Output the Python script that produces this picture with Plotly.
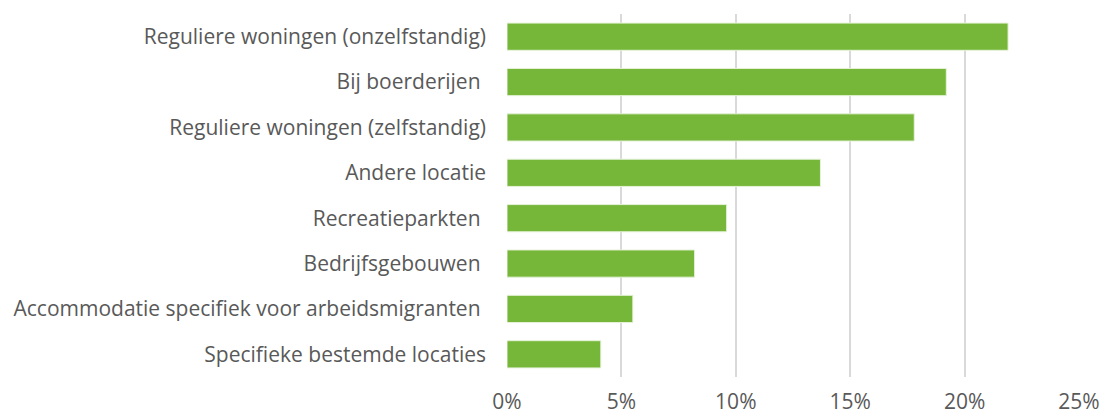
import plotly.graph_objects as go

categories = [
    "Reguliere woningen (onzelfstandig)",
    "Bij boerderijen ",
    "Reguliere woningen (zelfstandig)",
    "Andere locatie",
    "Recreatieparkten ",
    "Bedrijfsgebouwen ",
    "Accommodatie specifiek voor arbeidsmigranten ",
    "Specifieke bestemde locaties",
]
shares = [0.219, 0.192, 0.178, 0.137, 0.096, 0.082, 0.055, 0.041]
x_ticks = [0, 0.05, 0.10, 0.15, 0.20, 0.25]

fig = go.Figure()

fig.add_trace(go.Bar(
    x=shares,
    y=categories,
    orientation="h",
    marker=dict(color="#76B73A", line=dict(color="#E6F2D9", width=1)),
))

fig.update_layout(
    width=1102,
    height=416,
    margin=dict(l=507, r=23, t=14, b=39),
    plot_bgcolor="white",
    paper_bgcolor="white",
    font=dict(family="Open Sans", size=21, color="#595959"),
    showlegend=False,
    bargap=0.4,
    xaxis=dict(
        range=[0, 0.25],
        tickvals=x_ticks,
        tickformat=".0%",
        showgrid=True,
        gridcolor="#D9D9D9",
        gridwidth=2,
        zeroline=False,
        showline=False,
        ticklabelstandoff=10,
        automargin=False,
    ),
    yaxis=dict(
        autorange="reversed",
        showgrid=False,
        zeroline=False,
        showline=False,
        ticklabelstandoff=20,
        automargin=False,
    ),
)

# the page body has a default margin; drop it so the figure fills the window
fig.write_html(
    "out.html",
    config={"displayModeBar": False},
    post_script="document.body.style.margin='0';",
)
